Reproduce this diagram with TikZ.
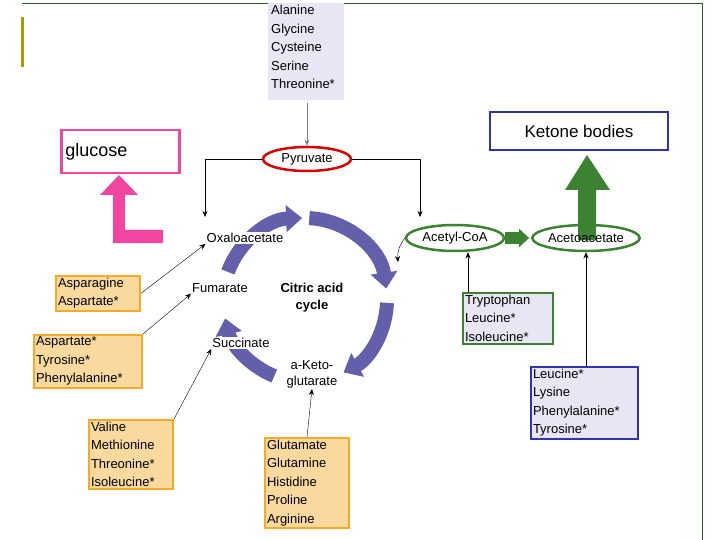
\documentclass[tikz,border=0pt]{standalone}
\usepackage{fontspec}
\setmainfont{Liberation Sans}
\usetikzlibrary{arrows.meta,shapes.geometric}
\definecolor{cyc}{RGB}{100,95,170}
\definecolor{lav}{RGB}{232,230,245}
\definecolor{org}{RGB}{245,170,40}
\definecolor{gr}{RGB}{60,130,50}
\definecolor{bl}{RGB}{50,50,180}
\definecolor{pk}{RGB}{240,70,160}
\tikzset{lbl/.style={font=\fontsize{13}{16}\selectfont},
 abox/.style={font=\fontsize{13}{18.5}\selectfont,align=left,anchor=north west,inner sep=2pt,text width=#1},
 arr/.style={-{Stealth[length=6pt,width=5pt]},thin},
 seg/.style={line width=14pt,cyc,-{Triangle[length=16pt,width=26pt]}}}
\begin{document}
\begin{tikzpicture}[x=1pt,y=-1pt]
\useasboundingbox (0,0) rectangle (720,540);
\fill[white] (0,0) rectangle (720,540);
\draw[gr!70!black,thin] (22,3) -- (702,3) -- (702,540);
\fill[olive!80!yellow] (21,17) rectangle (24,67);
% top box
\fill[lav] (268,3) rectangle (344,100);
\node[abox=74pt] (top) at (269,3) {Alanine\\Glycine\\Cysteine\\Serine\\Threonine*};
\node[draw=red!85!black,line width=2.5pt,ellipse,minimum width=88pt,minimum height=24pt,inner sep=0pt,lbl] (pyr) at (307,159) {Pyruvate};
\coordinate (topb) at (307,103);
\draw[arr,gray] (topb) -- (pyr.north);
\coordinate (oxa) at (205,217);
\coordinate (acc) at (420,217);
\draw[arr] (pyr.west) -| (oxa);
\draw[arr] (pyr.east) -| (acc);
% glucose
\node[draw=pk,line width=2.5pt,minimum width=118pt,minimum height=43pt,anchor=north west,text width=110pt,align=left,font=\fontsize{18}{20}\selectfont] (glu) at (60,129) {glucose};
\fill[pk] (113,243) -- (113,195) -- (100,195) -- (119,175) -- (138,195) -- (125,195) -- (125,230) -- (163,230) -- (163,243) -- cycle;
% ketone
\node[draw=bl,line width=2.5pt,minimum width=178pt,minimum height=38pt,font=\fontsize{17}{19}\selectfont] (ket) at (579,131) {Ketone bodies};
\fill[gr] (578,240) -- (578,190) -- (565,190) -- (587,155) -- (610,190) -- (596,190) -- (596,240) -- cycle;
% cycle
\begin{scope}[shift={(305,300)}]
\draw[seg] (200:82) arc (200:268:82);
\draw[seg] (273:82) arc (273:352:82);
\draw[seg] (2:82) arc (2:62:82);
\draw[seg] (112:82) arc (112:167:82);
\end{scope}
\node[lbl,fill=white,inner sep=1pt] (oxal) at (245,238) {Oxaloacetate};
\node[lbl,fill=white,inner sep=1pt] (fum) at (220,288) {Fumarate};
\node[lbl,fill=white,inner sep=1pt] (suc) at (241,343) {Succinate};
\node[lbl,align=center,inner sep=1pt,fill=white] (akg) at (312,374) {a-Keto-\\glutarate};
\node[font=\fontsize{13}{17}\selectfont\bfseries,align=center] (cac) at (312,298) {Citric acid\\cycle};
% acetyl-coa
\node[draw=gr,line width=2.5pt,ellipse,minimum width=98pt,minimum height=26pt,inner sep=0pt,lbl,fill=white] (aca) at (455,238) {Acetyl-CoA};
\node[draw=gr,line width=2.5pt,ellipse,minimum width=100pt,minimum height=26pt,inner sep=0pt,lbl] (aac) at (586,238) {Acetoacetate};
\coordinate (cin) at (398,262);
\draw[arr] (aca.west) to[bend right=20] (cin);
\draw[line width=12pt,gr,-{Triangle[length=10pt,width=18pt]},shorten >=2pt] (aca.east) -- (aac.west);
% tryptophan
\node[draw=gr,line width=2pt,fill=lav,abox=86pt] (try) at (462,292) {Tryptophan\\Leucine*\\Isoleucine*};
\coordinate (tt) at (468,292);
\draw[arr] (tt) -- (aca.south -| tt);
\node[draw=bl,line width=2pt,fill=lav,abox=103pt] (leu) at (530,366) {Leucine*\\Lysine\\Phenylalanine*\\Tyrosine*};
\draw[arr] (leu.north -| aac) -- (aac.south);
% orange boxes
\tikzset{obox/.style={draw=org,line width=2pt,fill=org!45,abox=#1}}
\node[obox=80pt] (asn) at (55,275) {Asparagine\\Aspartate*};
\node[obox=104pt] (asp) at (33,334) {Aspartate*\\Tyrosine*\\Phenylalanine*};
\node[obox=80pt] (val) at (88,419) {Valine\\Methionine\\Threonine*\\Isoleucine*};
\node[obox=80pt] (glm) at (264,437) {Glutamate\\Glutamine\\Histidine\\Proline\\Arginine};
\draw[arr] (asn.east) -- (oxal.south west);
\draw[arr] (asp.north east) -- (fum.south west);
\draw[arr] (val.north east) -- (suc.south west);
\draw[arr] (glm.north) -- (akg.south);
\end{tikzpicture}
\end{document}
